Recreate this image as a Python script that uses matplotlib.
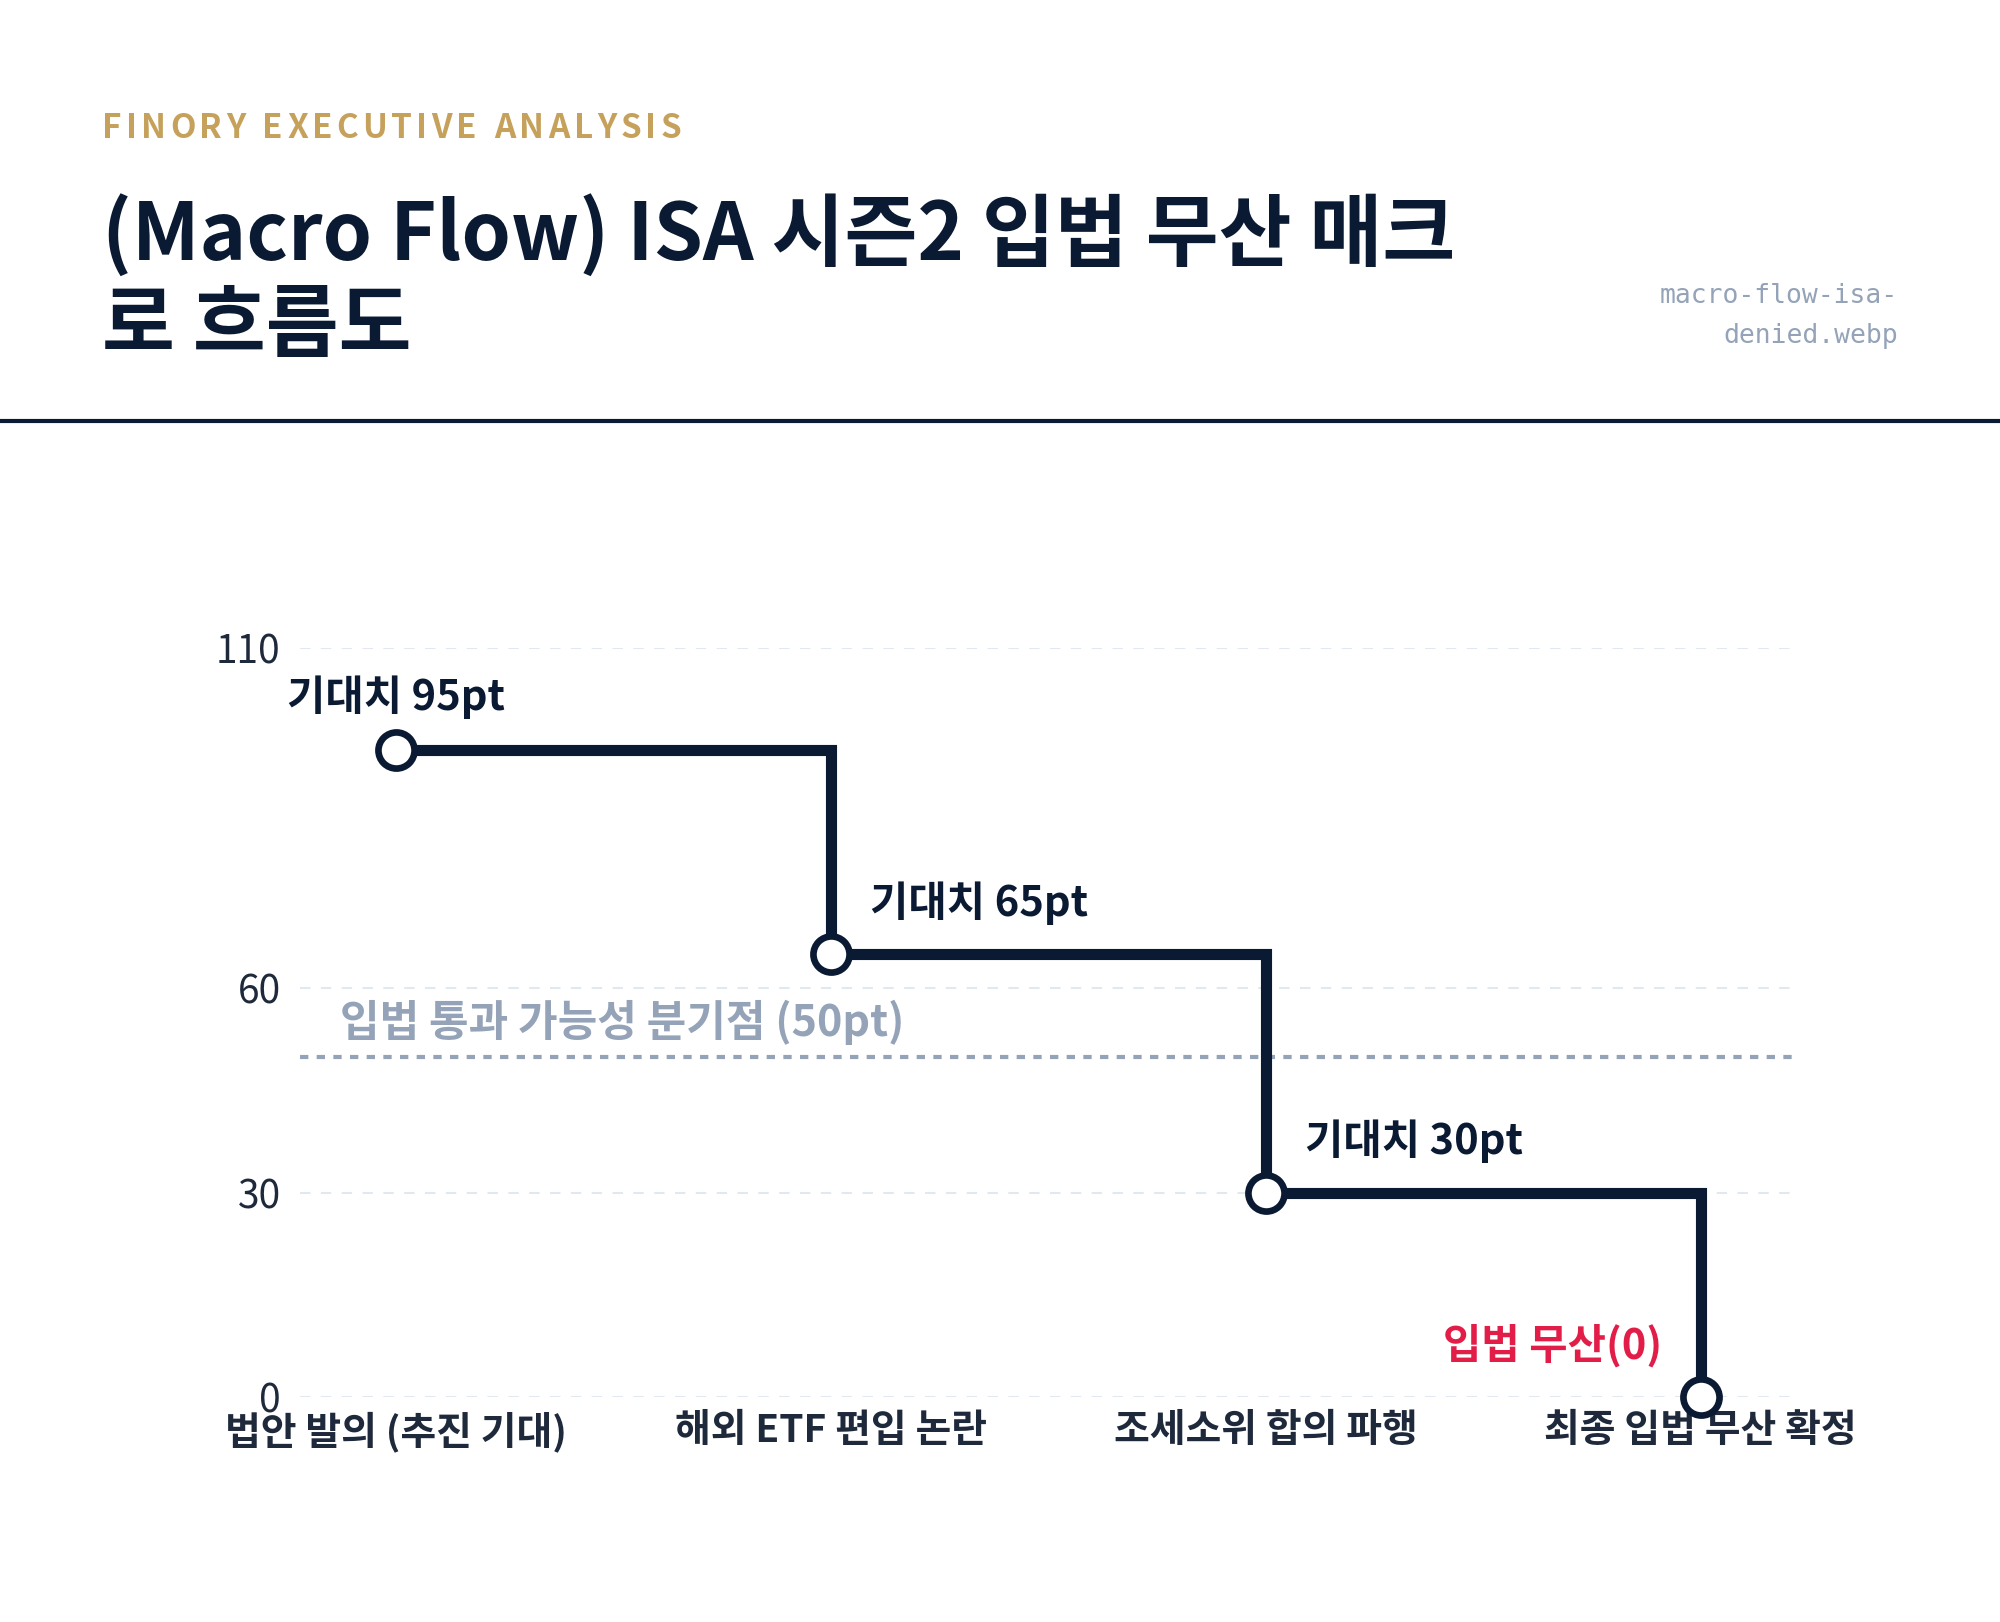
import matplotlib.pyplot as plt
from matplotlib.lines import Line2D

plt.rcParams['font.family'] = ['Noto Sans CJK KR', 'DejaVu Sans']

# data
stages = ['법안 발의 (추진 기대)', '해외 ETF 편입 논란', '조세소위 합의 파행', '최종 입법 무산 확정']
expect = [95, 65, 30, 0]
point_labels = ['기대치 95pt', '기대치 65pt', '기대치 30pt', '입법 무산(0)']
threshold = 50
threshold_label = '입법 통과 가능성 분기점 (50pt)'
yticks = [0, 30, 60, 110]

NAVY = '#0B1A33'
GOLD = '#C6A15B'
SLATE = '#94A3B8'
RED = '#E11D48'
TICK = '#1E293B'

fig = plt.figure(figsize=(20, 16.22), dpi=100)
fig.patch.set_facecolor('white')
renderer = fig.canvas.get_renderer()


def spaced_text(x0, y0, s, spacing_px, **kw):
    # draw text char by char with extra letter spacing (in pixels)
    W = fig.bbox.width
    xpos = x0
    for ch in s:
        t = fig.text(xpos, y0, ch, va='baseline', **kw)
        w = t.get_window_extent(renderer).width
        if ch == ' ':
            w = kw.get('fontsize', 20) * 100 / 72 * 0.26
        xpos += (w + spacing_px) / W


# header
spaced_text(0.051, 0.915, 'FINORY EXECUTIVE ANALYSIS', 4.1, color=GOLD, fontsize=24,
            fontweight='bold')
fig.text(0.051, 0.840, '(Macro Flow) ISA 시즌2 입법 무산 매크', color=NAVY, fontsize=57,
         fontweight='bold', va='baseline')
fig.text(0.051, 0.784, '로 흐름도', color=NAVY, fontsize=57,
         fontweight='bold', va='baseline')
fig.text(0.949, 0.8175, 'macro-flow-isa-', color=SLATE, fontsize=19,
         family='DejaVu Sans Mono', ha='right', va='center')
fig.text(0.949, 0.793, 'denied.webp', color=SLATE, fontsize=19,
         family='DejaVu Sans Mono', ha='right', va='center')
fig.add_artist(Line2D([0, 1], [0.7405, 0.7405], color=NAVY, lw=3, transform=fig.transFigure))

ax = fig.add_axes([0.15, 0.1387, 0.746, 0.4618])
x = list(range(len(stages)))

for yt in yticks:
    ax.axhline(yt, color='#E2E8F0', lw=1.5, ls=(0, (5, 5)), zorder=0)

ax.axhline(threshold, color=SLATE, lw=3, ls=(0, (2, 2)), zorder=1)
ax.annotate(threshold_label, xy=(0, threshold), xycoords=('axes fraction', 'data'),
            xytext=(29, 15), textcoords='offset points', color=SLATE, fontsize=31,
            fontweight='bold', ha='left', va='baseline')

ax.plot(x, expect, drawstyle='steps-post', color=NAVY, lw=8, zorder=3,
        solid_joinstyle='miter', clip_on=False)
ax.plot(x, expect, ls='none', marker='o', ms=26, mfc='white', mec=NAVY, mew=4.8,
        zorder=5, clip_on=False)

for i, (xi, yi, lab) in enumerate(zip(x, expect, point_labels)):
    if i == 0:
        ax.annotate(lab, (xi, yi), xytext=(0, 29), textcoords='offset points',
                    ha='center', va='baseline', fontsize=30, fontweight='bold', color=NAVY)
    elif i == len(x) - 1:
        ax.annotate(lab, (xi, yi), xytext=(-28, 28), textcoords='offset points',
                    ha='right', va='baseline', fontsize=30, fontweight='bold', color=RED)
    else:
        ax.annotate(lab, (xi, yi), xytext=(28, 28), textcoords='offset points',
                    ha='left', va='baseline', fontsize=30, fontweight='bold', color=NAVY)

ax.set_xlim(-0.22, 3.21)
ax.set_ylim(0, 110)
ax.set_xticks(x)
ax.set_xticklabels(stages, fontsize=28, fontweight='bold', color=TICK)
ax.set_yticks(yticks)
ax.set_yticklabels([str(v) for v in yticks], fontsize=28, color=TICK, fontweight='light')
ax.tick_params(axis='both', length=0)
ax.tick_params(axis='y', pad=14)
ax.tick_params(axis='x', pad=10)
for s in ax.spines.values():
    s.set_visible(False)
ax.set_facecolor('none')

fig.savefig('out.png', dpi=100, facecolor='white')
